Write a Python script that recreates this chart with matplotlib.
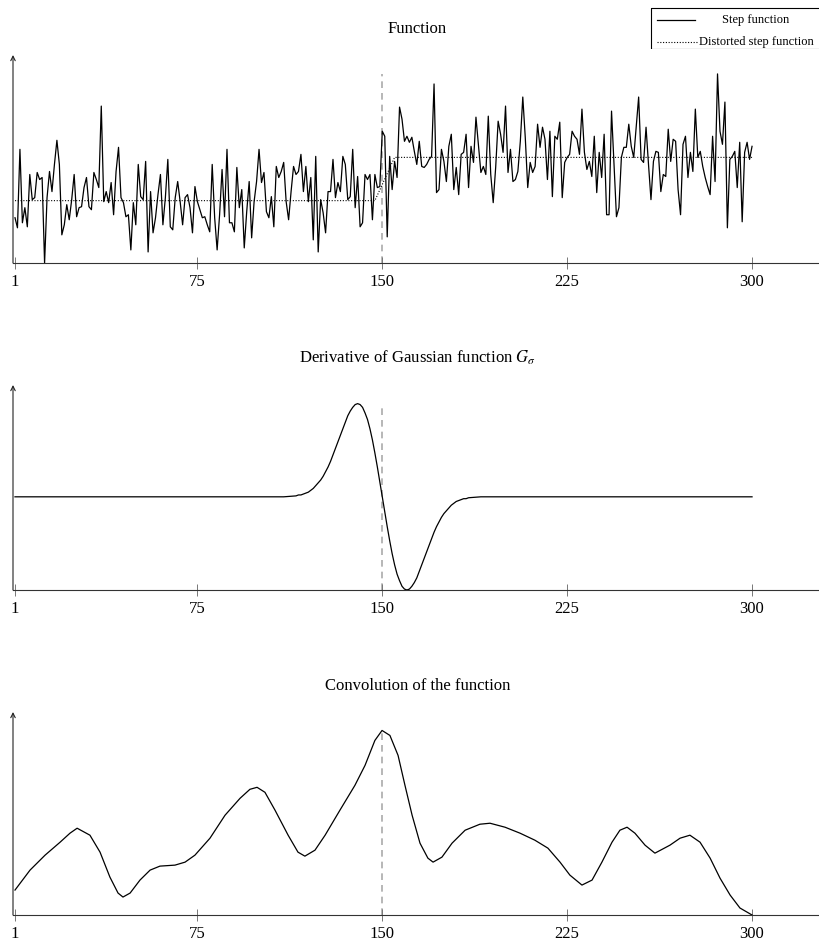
import matplotlib
matplotlib.use("Agg")
import matplotlib.pyplot as plt
from matplotlib.lines import Line2D
from matplotlib.patches import Rectangle

plt.rcParams['font.family'] = ['Liberation Serif', 'DejaVu Serif']
plt.rcParams['mathtext.fontset'] = 'stix'

# ---------------- data ----------------
x_ticks = [1, 75, 150, 225, 300]
x_tick_labels = ["1", "75", "150", "225", "300"]
edge_x = 150

titles = ["Function", r"Derivative of Gaussian function $G_\sigma$", "Convolution of the function"]
legend_labels = ["Step function", "Distorted step function"]

# noisy signal (samples 1..300)
signal_x = list(range(1, 301))
signal_y = [
    45, 35, 113, 40, 55, 36, 88, 63, 65, 90, 83, 85, 0, 65, 91, 71, 98, 122, 98, 28, 38, 58, 43, 63, 88, 46, 55, 56, 75, 85,
    56, 53, 90, 83, 75, 156, 61, 71, 60, 80, 48, 91, 115, 65, 60, 46, 48, 13, 60, 38, 98, 66, 63, 101, 11, 71, 30, 45, 68, 88,
    38, 65, 103, 36, 33, 65, 81, 61, 38, 65, 68, 55, 30, 76, 61, 53, 45, 46, 38, 31, 98, 45, 13, 48, 93, 46, 113, 40, 40, 31,
    95, 55, 73, 15, 51, 81, 25, 61, 81, 113, 80, 90, 51, 45, 66, 36, 96, 85, 91, 100, 61, 43, 71, 96, 88, 91, 108, 71, 96, 61,
    85, 23, 106, 11, 63, 50, 30, 71, 71, 103, 65, 80, 71, 106, 98, 63, 66, 113, 55, 86, 36, 40, 88, 83, 88, 43, 88, 75, 76, 131,
    126, 26, 106, 73, 101, 85, 155, 143, 121, 126, 120, 125, 111, 98, 121, 96, 95, 98, 103, 106, 178, 70, 73, 113, 101, 81, 116, 128, 73, 95,
    68, 108, 110, 128, 75, 116, 100, 145, 118, 90, 96, 88, 146, 88, 60, 95, 141, 128, 110, 156, 90, 113, 81, 83, 91, 121, 165, 125, 75, 100,
    90, 96, 138, 115, 135, 123, 83, 131, 66, 126, 123, 140, 65, 100, 105, 108, 131, 126, 123, 108, 153, 110, 93, 101, 86, 126, 70, 110, 85, 128,
    48, 48, 151, 98, 46, 55, 105, 115, 115, 138, 116, 105, 135, 165, 103, 100, 135, 98, 63, 101, 111, 110, 71, 88, 86, 133, 101, 123, 121, 73,
    48, 118, 126, 85, 110, 91, 153, 105, 111, 96, 85, 76, 68, 126, 81, 188, 131, 118, 160, 35, 103, 106, 111, 75, 120, 41, 110, 120, 103, 116,
]

# step function (dotted)
step_x = [1, 147, 155, 300]
step_y = [62, 62, 105, 105]

# derivative of Gaussian (read at unit spacing around the edge)
dog_x = [1, 110] + list(range(115, 186)) + [190, 300]
dog_y = [0.0, 0.0,
         0.01, 0.02, 0.02, 0.03, 0.04, 0.05, 0.07, 0.09, 0.12, 0.15,
         0.18, 0.22, 0.27, 0.32, 0.38, 0.45, 0.52, 0.59, 0.66, 0.73,
         0.80, 0.87, 0.92, 0.96, 0.99, 1.00, 0.99, 0.96, 0.90, 0.83,
         0.73, 0.61, 0.47, 0.32, 0.16,
         0.00,
         -0.16, -0.32, -0.47, -0.61, -0.73, -0.83, -0.90, -0.96, -0.99, -1.00,
         -0.99, -0.96, -0.92, -0.87, -0.80, -0.73, -0.66, -0.59, -0.52, -0.45,
         -0.38, -0.32, -0.27, -0.22, -0.18, -0.15, -0.12, -0.09, -0.07, -0.05,
         -0.04, -0.03, -0.02, -0.02, -0.01,
         0.0, 0.0]

# convolution
conv_x = [1.0, 7.1, 13.2, 19.3, 23.3, 26.2, 31.4, 35.5, 39.5, 42.8,
          44.8, 47.7, 51.7, 55.8, 59.8, 65.9, 70.0, 74.0, 80.1, 86.2,
          92.3, 96.3, 99.2, 102.4, 106.5, 111.8, 115.8, 118.6, 122.7, 126.8,
          132.8, 138.9, 143.0, 147.0, 149.9, 153.1, 156.4, 159.2, 162.1, 165.3,
          168.5, 170.6, 174.2, 178.3, 183.6, 189.6, 193.7, 199.8, 205.9, 211.9,
          217.2, 222.1, 226.1, 231.0, 235.1, 239.1, 243.2, 246.4, 249.3, 252.5,
          256.6, 260.6, 266.7, 270.8, 274.8, 278.9, 283.0, 287.0, 291.1, 295.1,
          300.0]
conv_y = [25, 45, 60, 73, 82, 87, 80, 63, 38, 22,
          18, 22, 35, 45, 49, 50, 53, 60, 77, 100,
          117, 126, 128, 123, 105, 80, 63, 59, 65, 80,
          105, 130, 150, 175, 185, 180, 160, 130, 100, 72,
          57, 53, 58, 72, 85, 91, 92, 88, 82, 75,
          67, 53, 40, 30, 35, 53, 73, 85, 88, 82,
          70, 62, 70, 77, 80, 73, 57, 37, 20, 7,
          0]

# ---------------- layout ----------------
W, H = 819, 952
fig = plt.figure(figsize=(W / 100, H / 100), dpi=100)

panels = [(55, 263), (385, 590), (712, 915)]  # (top, bottom) in pixels
ax_left, ax_right = 13, 822

axes = []
for (top, bot) in panels:
    ax = fig.add_axes([ax_left / W, 1 - bot / H, (ax_right - ax_left) / W, (bot - top) / H])
    axes.append(ax)

def style(ax, ys, title):
    lo, hi = min(ys), max(ys)
    ax.set_ylim(lo, lo + (hi - lo) * 1.1)
    ax.set_xlim(1 - 2 / 2.465, 1 + (ax_right - 15) / 2.465)
    for s in ['top', 'right', 'left']:
        ax.spines[s].set_visible(False)
    ax.spines['bottom'].set_color('#333333')
    ax.spines['bottom'].set_linewidth(0.8)
    ax.set_yticks([])
    ax.set_xticks(x_ticks)
    ax.set_xticklabels(x_tick_labels)
    ax.tick_params(axis='x', direction='inout', length=8, width=0.7, color='#777777',
                   labelsize=12, pad=4)
    ax.annotate('', xy=(0, 1), xytext=(0, 0), xycoords='axes fraction',
                arrowprops=dict(arrowstyle='->', lw=0.8, color='#222222',
                                shrinkA=0, shrinkB=0, mutation_scale=8))
    ax.vlines(edge_x, lo, hi, colors='#aaaaaa', linestyles=(0, (4, 3)), linewidth=1.2, zorder=1)
    ax.set_title(title, fontsize=12, pad=16, x=0.5)
    ax.patch.set_alpha(0)

# panel 1
ax = axes[0]
ax.plot(step_x, step_y, color='black', linestyle=(0, (1, 1.5)), linewidth=0.8, zorder=2)
ax.plot(signal_x, signal_y, color='black', linewidth=0.9, zorder=3)
style(ax, signal_y, titles[0])

# panel 2
ax = axes[1]
ax.plot(dog_x, dog_y, color='black', linewidth=0.9, zorder=3)
style(ax, dog_y, titles[1])

# panel 3
ax = axes[2]
ax.plot(conv_x, conv_y, color='black', linewidth=0.9, zorder=3, solid_joinstyle='round')
style(ax, conv_y, titles[2])

# legend (drawn manually, top-right)
lx0, ly0, lx1, ly1 = 650, 7, 822, 49
lax = fig.add_axes([lx0 / W, 1 - ly1 / H, (lx1 - lx0) / W, (ly1 - ly0) / H])
lax.set_xlim(lx0, lx1)
lax.set_ylim(ly1, ly0)
lax.axis('off')
lax.add_patch(Rectangle((lx0 + 0.5, ly0 + 0.5), lx1 - lx0, ly1 - ly0 - 1, fill=False,
                        edgecolor='black', linewidth=0.8))
lax.add_line(Line2D([657, 695], [20, 20], color='black', linewidth=0.9))
lax.add_line(Line2D([657, 697], [42, 42], color='black', linestyle=(0, (1, 1.5)), linewidth=0.8))
lax.text(756, 20, legend_labels[0], ha='center', va='center', fontsize=9)
lax.text(756, 42, legend_labels[1], ha='center', va='center', fontsize=9)

fig.savefig('out.png', dpi=100)
